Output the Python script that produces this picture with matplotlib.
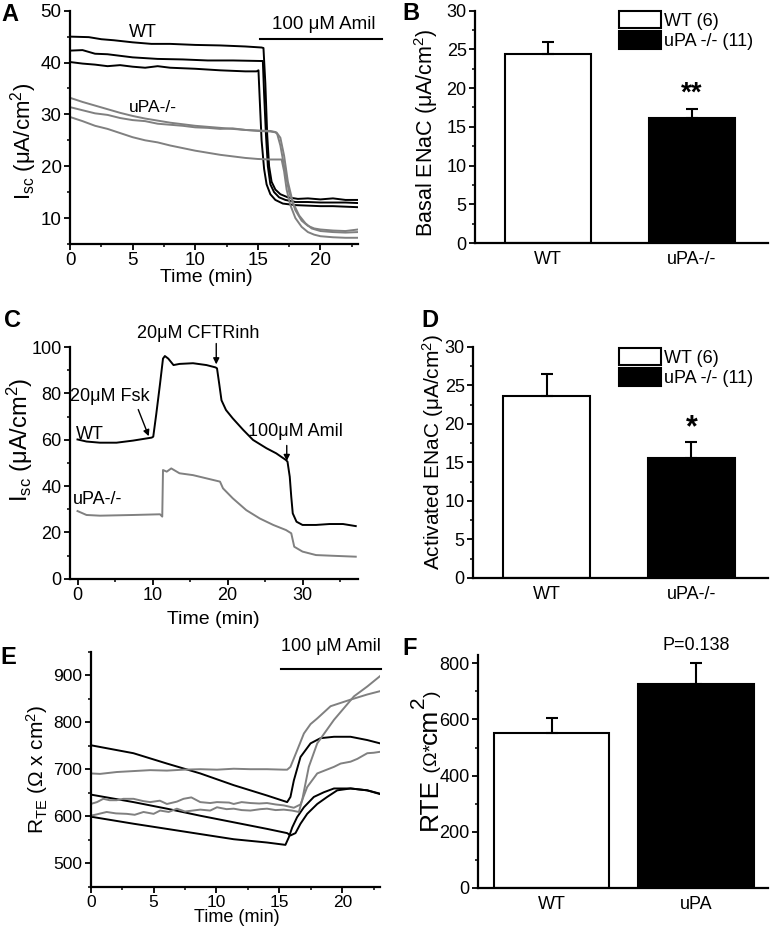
import numpy as np
import matplotlib
matplotlib.use('Agg')
import matplotlib.pyplot as plt
from matplotlib.patches import Patch
from matplotlib.ticker import MultipleLocator

plt.rcParams['font.family'] = ['Liberation Sans', 'DejaVu Sans']
plt.rcParams['mathtext.fontset'] = 'custom'
plt.rcParams['mathtext.rm'] = 'Liberation Sans'
plt.rcParams['mathtext.it'] = 'Liberation Sans:italic'
plt.rcParams['mathtext.bf'] = 'Liberation Sans:bold'

# ---------------- data ----------------
# Panel A: Isc traces (time in min, uA/cm2)
a_wt1_t = [0, 1.5, 2.5, 3.5, 5, 6.5, 8, 10, 12, 14, 15.3, 15.45, 15.6, 15.75, 15.9, 16.1, 16.4, 16.8, 17.4, 18.2, 19, 20, 21, 22, 23]
a_wt1_v = [45.0, 44.9, 44.5, 44.3, 43.9, 43.6, 43.6, 43.4, 43.3, 43.1, 42.9, 42.8, 36, 26, 20, 17, 15.5, 14.6, 14.0, 13.7, 13.8, 13.6, 13.8, 13.5, 13.5]
a_wt2_t = [0, 1, 2, 3, 4, 5, 7, 9, 11, 13, 15.2, 15.4, 15.5, 15.65, 15.8, 16.0, 16.3, 16.7, 17.2, 18, 19, 20, 21, 22, 23]
a_wt2_v = [42.3, 42.4, 41.7, 41.6, 41.3, 41.0, 40.7, 40.6, 40.4, 40.4, 40.3, 40.3, 34, 26, 20, 16.5, 15, 14, 13.5, 13.1, 13.1, 13.0, 13.0, 13.0, 12.9]
a_wt3_t = [0, 1, 2, 3, 4, 5, 6, 7, 8, 10, 12, 14, 14.9, 15.05, 15.15, 15.3, 15.5, 15.7, 16, 16.4, 17, 18, 19, 20, 21, 22, 23]
a_wt3_v = [40.1, 39.8, 39.6, 39.3, 39.5, 39.2, 39.0, 39.3, 39.0, 38.8, 38.5, 38.3, 38.3, 38.5, 33, 25, 19.5, 16.5, 14.6, 13.5, 12.8, 12.5, 12.4, 12.3, 12.3, 12.2, 12.1]
a_ko1_t = [0, 1, 2, 3, 4, 5, 6, 7, 8, 9, 10, 11, 12, 13, 14, 15, 16, 16.4, 16.55, 16.8, 17.1, 17.5, 18, 18.5, 19, 19.5, 20, 21, 22, 23]
a_ko1_v = [33.2, 32.4, 31.7, 31.0, 30.3, 29.7, 29.2, 28.8, 28.4, 28.1, 27.8, 27.6, 27.4, 27.2, 27.0, 26.9, 26.8, 26.6, 26.2, 24, 20, 15, 11.5, 9.5, 8.5, 8.0, 7.8, 7.6, 7.5, 7.8]
a_ko2_t = [0, 1, 2, 3, 4, 5, 6, 7, 8, 9, 10, 11, 12, 13, 14, 15, 16, 16.5, 16.8, 17.1, 17.4, 17.8, 18.3, 18.8, 19.3, 20, 21, 22, 23]
a_ko2_v = [31.4, 30.8, 30.2, 29.9, 29.3, 28.9, 28.7, 28.2, 28.0, 27.8, 27.5, 27.4, 27.2, 27.3, 27.0, 26.8, 26.7, 26.5, 25.5, 22, 17, 13, 10.5, 9, 8.0, 7.5, 7.3, 7.2, 7.3]
a_ko3_t = [0, 1, 2, 3, 4, 5, 6, 7, 8, 9, 10, 11, 12, 13, 14, 15, 16, 16.9, 17.1, 17.3, 17.6, 18, 18.5, 19, 19.5, 20, 21, 22, 23]
a_ko3_v = [29.5, 28.7, 27.8, 27.2, 26.4, 25.6, 25.0, 24.6, 24.0, 23.5, 23.0, 22.6, 22.2, 21.9, 21.6, 21.4, 21.3, 21.3, 19, 15.5, 12.5, 10, 8.3, 7.3, 6.8, 6.5, 6.3, 6.2, 6.2]

# Panel B / D / F: bar summaries
bar_groups = ['WT', 'uPA-/-']
legend_labels = ['WT (6)', 'uPA -/- (11)']
b_mean = [24.4, 16.2]
b_err = [1.6, 1.1]
d_mean = [23.6, 15.6]
d_err = [2.8, 2.0]
f_groups = ['WT', 'uPA']
f_mean = [551, 727]
f_err = [55, 75]

# Panel C: Isc traces with Fsk / CFTRinh / Amil
c_wt_t = [0, 1.2, 3, 5.2, 7.4, 9.9, 10.1, 10.5, 11.0, 11.4, 11.65, 12.1, 12.8, 13.6, 15.4, 17.2, 18.4, 18.6, 18.9, 19.2, 19.8, 20.7, 22.1, 23.4, 25.2, 26.5, 27.8, 28.0, 28.3, 28.5, 28.7, 29.2, 30, 31.8, 33.6, 35.4, 37.1]
c_wt_v = [60.1, 59.2, 58.7, 58.7, 59.6, 60.9, 61.3, 71, 84, 95, 96.1, 95, 92.2, 92.7, 93, 92.2, 91.2, 90.8, 84, 77, 72.8, 69.2, 64.2, 59.9, 56.3, 54.1, 51.2, 50.5, 44, 35.4, 28.2, 24.6, 23.2, 23.2, 23.6, 23.6, 22.7]
c_ko_t = [0, 1.2, 3, 7.4, 11.0, 11.3, 11.4, 11.9, 12.5, 13.6, 15.4, 17.2, 19.0, 19.4, 20.7, 22.5, 24.3, 26.1, 27.8, 28.5, 28.9, 30, 31.8, 34, 37.1]
c_ko_v = [29.2, 27.5, 27.2, 27.5, 27.8, 26.8, 46.9, 46.2, 47.6, 45.5, 44.7, 43.3, 41.9, 39.0, 34.7, 29.6, 26.0, 23.2, 21.0, 19.6, 13.8, 11.7, 10.2, 9.9, 9.5]

# Panel E: transepithelial resistance traces
e_wt1_t = [0, 3.4, 6.06, 8.71, 11.37, 14.02, 15.62, 15.88, 16.15, 16.68, 17.48, 18.27, 19.34, 20.66, 21.99, 23]
e_wt1_v = [751, 734, 712, 691, 666, 644, 630, 641, 676, 726, 755, 766, 769, 769, 762, 755]
e_wt2_t = [0, 3.4, 6.06, 8.71, 11.37, 14.02, 15.62, 15.88, 16.28, 16.68, 17.21, 18.01, 18.80, 19.60, 20.66, 21.99, 23]
e_wt2_v = [646, 630, 616, 601, 587, 573, 564, 559, 564, 584, 605, 626, 641, 655, 659, 655, 647]
e_wt3_t = [0, 3.4, 6.06, 8.71, 11.37, 14.02, 15.48, 15.75, 16.02, 16.41, 16.95, 17.74, 18.54, 19.34, 20.66, 21.99, 23]
e_wt3_v = [599, 584, 573, 562, 551, 544, 539, 555, 576, 598, 619, 641, 651, 659, 659, 655, 648]
e_ko1_t = [0, 0.74, 2.07, 3.4, 4.73, 6.06, 7.38, 8.71, 10.04, 11.37, 12.7, 14.02, 15.35, 15.62, 15.88, 16.41, 16.95, 17.48, 18.01, 19.07, 20.66, 21.99, 23]
e_ko1_v = [691, 690, 694, 696, 698, 697, 699, 700, 699, 701, 700, 700, 699, 699, 705, 740, 776, 796, 808, 834, 848, 859, 866]
e_ko2_t = [0, 0.5, 1.0, 1.5, 2.07, 2.6, 3.4, 4.2, 4.73, 5.5, 6.06, 6.85, 7.38, 8.0, 8.71, 9.5, 10.04, 11.0, 11.37, 12.0, 12.7, 13.4, 14.02, 14.7, 15.35, 16.15, 16.68, 17.21, 18.01, 19.34, 19.87, 20.66, 21.2, 21.46, 21.99, 22.5, 23]
e_ko2_v = [626, 630, 637, 634, 634, 637, 637, 632, 630, 633, 626, 631, 637, 640, 630, 628, 630, 629, 626, 630, 628, 627, 628, 625, 623, 618, 625, 662, 691, 705, 712, 716, 722, 726, 734, 735, 737]
e_ko3_t = [0, 0.5, 1.27, 2.0, 2.87, 3.5, 4.2, 5.0, 5.52, 6.2, 6.85, 7.5, 8.71, 9.5, 10.04, 10.8, 11.37, 12.0, 12.7, 13.5, 14.02, 14.7, 15.35, 16.0, 16.55, 16.81, 17.34, 18.01, 19.34, 20.93, 21.99, 23]
e_ko3_v = [601, 604, 609, 606, 605, 603, 609, 605, 612, 609, 616, 610, 614, 612, 619, 615, 616, 613, 612, 615, 616, 613, 614, 612, 609, 634, 705, 755, 805, 855, 876, 898]

GREY = '#808080'
W, H = 772, 940
fig = plt.figure(figsize=(W / 100, H / 100), dpi=100)


def add_ax(l, t, r, b):
    return fig.add_axes([l / W, 1 - b / H, (r - l) / W, (b - t) / H])


def style(ax, fs=13):
    for s in ['top', 'right']:
        ax.spines[s].set_visible(False)
    for s in ['left', 'bottom']:
        ax.spines[s].set_linewidth(1.6)
    ax.tick_params(which='major', direction='out', length=4, width=1.3, labelsize=fs, pad=2)
    ax.tick_params(which='minor', direction='out', length=2.5, width=1.1)


def ftext(x, y, s, **kw):
    return fig.text(x / W, 1 - y / H, s, **kw)


def panel_label(x, y, s):
    ftext(x, y, s, fontsize=17, fontweight='bold', ha='left', va='top')


LW = 1.4

# ---------------- Panel A ----------------
axA = add_ax(70, 10.7, 358, 244)
style(axA, 13.5)
for t, v in [(a_wt1_t, a_wt1_v), (a_wt2_t, a_wt2_v), (a_wt3_t, a_wt3_v)]:
    axA.plot(t, v, color='black', lw=LW)
for t, v in [(a_ko1_t, a_ko1_v), (a_ko2_t, a_ko2_v), (a_ko3_t, a_ko3_v)]:
    axA.plot(t, v, color=GREY, lw=LW)
axA.set_xlim(0, 23)
axA.set_ylim(5, 50)
axA.xaxis.set_major_locator(MultipleLocator(5))
axA.xaxis.set_minor_locator(MultipleLocator(2.5))
axA.yaxis.set_major_locator(MultipleLocator(10))
axA.yaxis.set_minor_locator(MultipleLocator(5))
axA.plot([15.2, 24.9], [44.5, 44.5], color='black', lw=1.5, clip_on=False)
axA.text(20.3, 47.3, '100 μM Amil', fontsize=13.5, ha='center', va='center')
axA.text(5.85, 45.8, 'WT', fontsize=13, ha='center', va='center')
axA.text(6.6, 31.4, 'uPA-/-', fontsize=12.5, ha='center', va='center')
ftext(206, 277, 'Time (min)', fontsize=14, ha='center', va='center')
ftext(23.5, 141, r'I$_{\mathrm{sc}}$ (μA/cm$^{2}$)', fontsize=16, rotation=90, ha='center', va='center')
panel_label(1, 3, 'A')


# ---------------- bar panels ----------------
def bar_panel(ax, means, errs, labels, width, ylim, major, minor, fs=13):
    style(ax, fs)
    x = [1, 2]
    ax.bar(x, means, width=width, color=['white', 'black'], edgecolor='black', linewidth=1.5, zorder=2)
    ax.errorbar(x, means, yerr=[[0, 0], errs], fmt='none', ecolor='black', elinewidth=1.5,
                capsize=4, capthick=1.5, zorder=3)
    ax.set_xticks(x)
    ax.set_xticklabels(labels)
    ax.tick_params(axis='x', length=0, pad=6)
    ax.set_ylim(*ylim)
    ax.yaxis.set_major_locator(MultipleLocator(major))
    ax.yaxis.set_minor_locator(MultipleLocator(minor))


def bar_legend(ax, top_px):
    handles = [Patch(facecolor='white', edgecolor='black', linewidth=1.5),
               Patch(facecolor='black', edgecolor='black', linewidth=1.5)]
    ax.legend(handles, legend_labels, loc='upper left', bbox_to_anchor=(619 / W, 1 - top_px / H),
              bbox_transform=fig.transFigure, frameon=False, fontsize=13, borderpad=0,
              borderaxespad=0, handlelength=2.3, handleheight=1.1, labelspacing=0.08,
              handletextpad=0.2)


axB = add_ax(475, 10.7, 768, 243)
bar_panel(axB, b_mean, b_err, bar_groups, 0.6, (0, 30), 5, 2.5)
axB.set_xlim(0.49, 2.53)
axB.text(2, 19.3, '**', fontsize=20, fontweight='bold', ha='center', va='center')
bar_legend(axB, 11)
ftext(426, 133, 'Basal ENaC (μA/cm$^{2}$)', fontsize=15.5, rotation=90, ha='center', va='center')
panel_label(402, 2, 'B')

# ---------------- Panel C ----------------
axC = add_ax(70, 347, 358, 578.7)
style(axC)
axC.plot(c_wt_t, c_wt_v, color='black', lw=LW)
axC.plot(c_ko_t, c_ko_v, color=GREY, lw=LW)
axC.set_xlim(-1, 37.4)
axC.set_ylim(0, 100)
axC.xaxis.set_major_locator(MultipleLocator(10))
axC.xaxis.set_minor_locator(MultipleLocator(5))
axC.yaxis.set_major_locator(MultipleLocator(20))
axC.yaxis.set_minor_locator(MultipleLocator(10))
arrow = dict(arrowstyle='-|>', color='black', lw=1.0, mutation_scale=9, shrinkA=0, shrinkB=0)
axC.annotate('', xy=(9.5, 61.5), xytext=(8.1, 73), arrowprops=arrow)
axC.text(4.3, 78.8, '20μM Fsk', fontsize=13, ha='center', va='center')
axC.annotate('', xy=(18.5, 92.5), xytext=(18.5, 101.5), arrowprops=arrow, annotation_clip=False)
axC.text(16.1, 105.8, '20μM CFTRinh', fontsize=13, ha='center', va='center', clip_on=False)
axC.annotate('', xy=(27.9, 50.8), xytext=(27.9, 57.5), arrowprops=arrow)
axC.text(29.0, 63.5, '100μM Amil', fontsize=13, ha='center', va='center')
axC.text(-0.2, 62.3, 'WT', fontsize=13, ha='left', va='center')
axC.text(-0.6, 34, 'uPA-/-', fontsize=13, ha='left', va='center')
ftext(213, 620, 'Time (min)', fontsize=14, ha='center', va='center')
ftext(20, 440, r'I$_{\mathrm{sc}}$ (μA/cm$^{2}$)', fontsize=17, rotation=90, ha='center', va='center')
panel_label(4, 309, 'C')

# ---------------- Panel D ----------------
axD = add_ax(473, 346.7, 768, 578)
bar_panel(axD, d_mean, d_err, bar_groups, 0.6, (0, 30), 5, 2.5)
axD.set_xlim(0.49, 2.53)
axD.text(2, 19.4, '*', fontsize=22, fontweight='bold', ha='center', va='center')
bar_legend(axD, 348)
ftext(433, 452, 'Activated ENaC (μA/cm$^{2}$)', fontsize=15, rotation=90, ha='center', va='center')
panel_label(421, 309, 'D')

# ---------------- Panel E ----------------
axE = add_ax(90.7, 651.7, 380, 886.7)
style(axE, 12.5)
for t, v in [(e_wt1_t, e_wt1_v), (e_wt2_t, e_wt2_v), (e_wt3_t, e_wt3_v)]:
    axE.plot(t, v, color='black', lw=LW)
for t, v in [(e_ko1_t, e_ko1_v), (e_ko2_t, e_ko2_v), (e_ko3_t, e_ko3_v)]:
    axE.plot(t, v, color=GREY, lw=LW)
axE.set_xlim(0, 23)
axE.set_ylim(450, 950)
axE.xaxis.set_major_locator(MultipleLocator(5))
axE.xaxis.set_minor_locator(MultipleLocator(2.5))
axE.yaxis.set_major_locator(MultipleLocator(100))
axE.yaxis.set_minor_locator(MultipleLocator(50))
axE.set_yticks([500, 600, 700, 800, 900])
axE.plot([15.1, 23.05], [913.6, 913.6], color='black', lw=1.5, clip_on=False)
axE.text(19.1, 962, '100 μM Amil', fontsize=13, ha='center', va='center', clip_on=False)
ftext(237, 918, 'Time (min)', fontsize=13, ha='center', va='center')
ftext(37, 769, r'R$_{\mathrm{TE}}$ (Ω x cm$^{2}$)', fontsize=15, rotation=90, ha='center', va='center')
panel_label(0, 646, 'E')

# ---------------- Panel F ----------------
axF = add_ax(478, 655, 768, 887.7)
bar_panel(axF, f_mean, f_err, f_groups, 0.8, (0, 830), 200, 100)
axF.set_xlim(0.49, 2.5)
axF.text(2, 865, 'P=0.138', fontsize=13, ha='center', va='center', clip_on=False)
panel_label(402, 637, 'F')

# composite y-label for F
renderer = fig.canvas.get_renderer()
pieces = [('RTE', 19, 0), (' (Ω*', 14, 0), ('cm', 19, 0), ('2', 15, -13), (')', 14, 0)]
ydisp = H - 830
for txt, fs, dx in pieces:
    t = fig.text((437 + dx) / W, ydisp / H, txt, fontsize=fs, rotation=90,
                 rotation_mode='anchor', ha='left', va='baseline')
    bb = t.get_window_extent(renderer=renderer)
    ydisp += bb.height

fig.savefig('out.png', dpi=100)
